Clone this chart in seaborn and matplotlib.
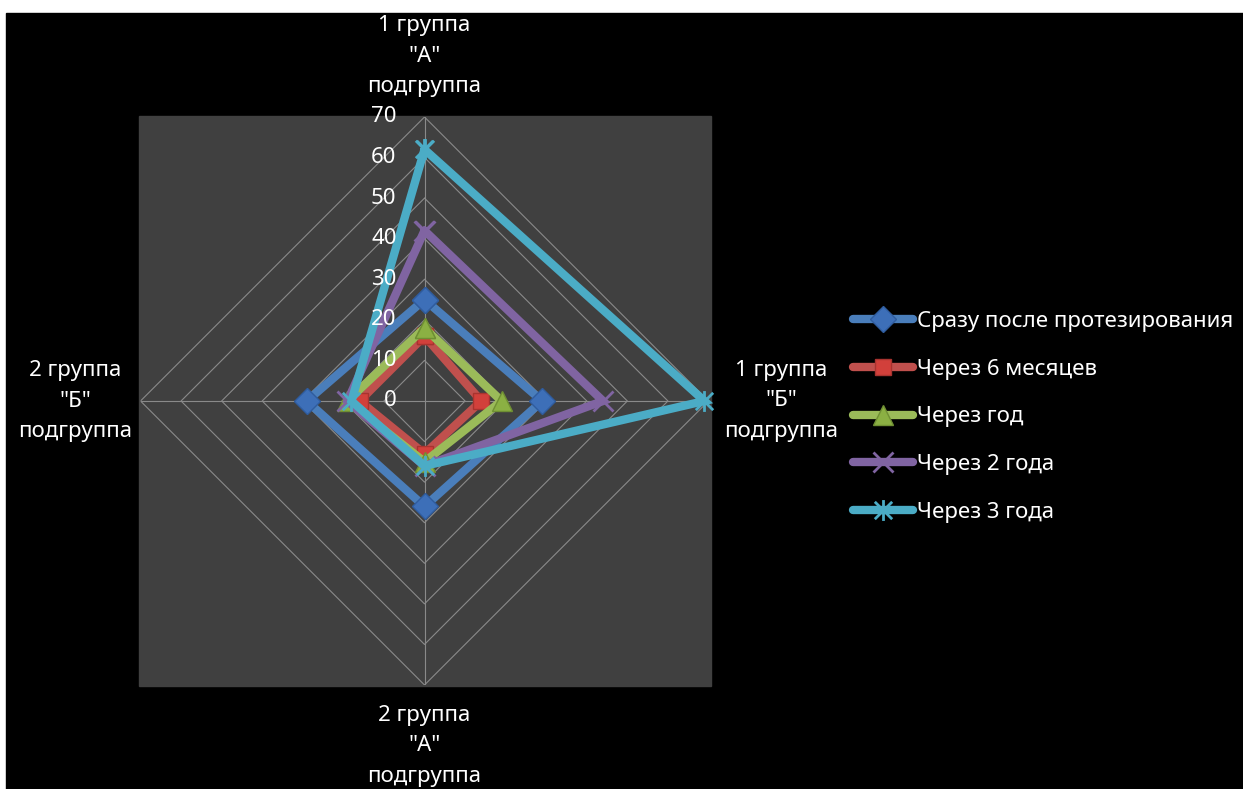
import numpy as np
import matplotlib
matplotlib.use("Agg")
import matplotlib.pyplot as plt
import matplotlib.transforms as mtransforms
from matplotlib.patches import Rectangle
from matplotlib.path import Path
import seaborn as sns

# Radar axes (clockwise from the top)
categories = ['1 группа\n"А"\nподгруппа', '1 группа\n"Б"\nподгруппа',
              '2 группа\n"А"\nподгруппа', '2 группа\n"Б"\nподгруппа']

series_names = ["Сразу после протезирования", "Через 6 месяцев", "Через год",
                "Через 2 года", "Через 3 года"]
right_after = [25, 29, 26, 29]
after_6_months = [16, 14, 13, 16]
after_1_year = [18, 19, 15, 19]
after_2_years = [42, 44, 16, 19]
after_3_years = [62, 69, 16, 18]

r_ticks = [0, 10, 20, 30, 40, 50, 60, 70]

sns.set_theme(style="dark")
plt.rcParams["font.family"] = ["Noto Sans", "DejaVu Sans"]

W, H = 1243, 789
fig = plt.figure(figsize=(W / 100, H / 100), dpi=100, facecolor="white")

# black canvas and grey plot area
fig.add_artist(Rectangle((6 / W, 0), 1 - 6 / W, (H - 13) / H,
                         transform=fig.transFigure, color="black", zorder=-3))
fig.add_artist(Rectangle((139 / W, (H - 686) / H), 572 / W, 570 / H,
                         transform=fig.transFigure, color="#404040", zorder=-2))

cx, cy, rad = 424.5, 401.0, 284.0
ax = fig.add_axes([(cx - rad) / W, (H - cy - rad) / H, 2 * rad / W, 2 * rad / H],
                  projection="polar")
ax.set_facecolor("none")
ax.patch.set_visible(False)
ax.spines["polar"].set_visible(False)
ax.set_theta_offset(np.pi / 2)
ax.set_theta_direction(-1)
ax.set_ylim(0, 70)

n = len(categories)
angles = np.arange(n) * 2 * np.pi / n
closed_angles = np.append(angles, 2 * np.pi)

# spokes
ax.set_xticks(angles)
ax.set_xticklabels([])
ax.xaxis.grid(True, color="#8a8a8a", lw=0.8)
ax.yaxis.grid(False)
ax.set_yticks(r_ticks)
ax.set_yticklabels([])
ax.tick_params(length=0)

grid_color = "#8a8a8a"
for r in r_ticks[1:]:
    ax.plot(closed_angles, [r] * (n + 1), color=grid_color, lw=0.8, zorder=1)

# radial value labels, left of the vertical axis
lab_tr = mtransforms.offset_copy(ax.transData, fig=fig, x=-28, y=0, units="dots")
for r in r_ticks:
    ax.text(0, r, str(r), transform=lab_tr, ha="right", va="center",
            color="white", fontsize=16, zorder=6)

# category labels
for ang, lab, rr in zip(angles, categories, [85, 88, 85, 86]):
    ax.text(ang, rr, lab, ha="center", va="center", color="white",
            fontsize=16, linespacing=1.6, clip_on=False)

star = Path([(-1, -1), (1, 1), (-1, 1), (1, -1), (0, -1.2), (0, 1.2)],
            [Path.MOVETO, Path.LINETO, Path.MOVETO, Path.LINETO,
             Path.MOVETO, Path.LINETO])

styles = [
    dict(color="#4a7ebb", marker="D", markersize=13, mfc="#3d6fb8", mec="#2f5c9e", mew=1),
    dict(color="#c0504d", marker="s", markersize=12, mfc="#d2403b", mec="#a8332f", mew=1),
    dict(color="#9bbb59", marker="^", markersize=15, mfc="#8bb043", mec="#6f8f33", mew=1),
    dict(color="#8064a2", marker="x", markersize=14, mec="#8064a2", mew=2),
    dict(color="#4bacc6", marker=star, markersize=15, mfc="none", mec="#4bacc6", mew=2),
]

all_series = [right_after, after_6_months, after_1_year, after_2_years, after_3_years]
for i, (name, vals, st) in enumerate(zip(series_names, all_series, styles)):
    closed_vals = list(vals) + [vals[0]]
    sns.lineplot(x=closed_angles, y=closed_vals, ax=ax, sort=False,
                 estimator=None, lw=6, label=name, zorder=3 + i * 0.1,
                 solid_joinstyle="miter", clip_on=False, **st)

ax.set_xlabel("")
ax.set_ylabel("")
handles, labels = ax.get_legend_handles_labels()
if ax.get_legend() is not None:
    ax.get_legend().remove()

leg = fig.legend(handles, labels, loc="center left",
                 bbox_to_anchor=(853 / W, (H - 417) / H),
                 frameon=False, fontsize=16, labelcolor="white",
                 handlelength=2.7, handletextpad=0.2, labelspacing=1.2,
                 borderpad=0, borderaxespad=0)

fig.savefig("out.png", dpi=100, facecolor=fig.get_facecolor())
